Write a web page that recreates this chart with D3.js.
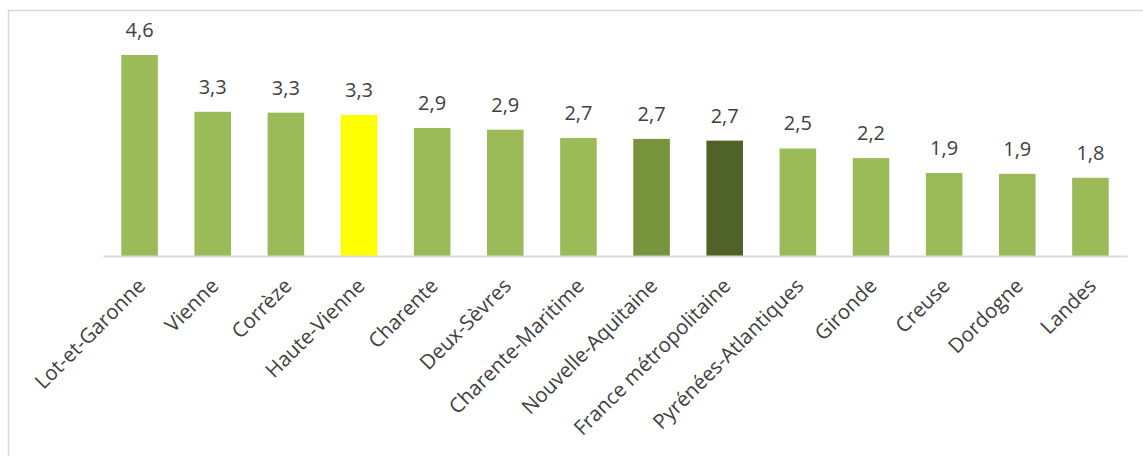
<!DOCTYPE html>
<html>
<head>
<meta charset="utf-8">
<script src="https://cdn.jsdelivr.net/npm/d3@7/dist/d3.min.js"></script>
<style>
  body { margin: 0; background: #fff; }
  text { font-family: "Open Sans", sans-serif; fill: #404040; }
</style>
</head>
<body>
<div id="chart"></div>
<script>
// departements, sorted as in the source
var categories = ["Lot-et-Garonne", "Vienne", "Corrèze", "Haute-Vienne", "Charente",
  "Deux-Sèvres", "Charente-Maritime", "Nouvelle-Aquitaine", "France métropolitaine",
  "Pyrénées-Atlantiques", "Gironde", "Creuse", "Dordogne", "Landes"];
var values = [4.6, 3.30, 3.28, 3.23, 2.93, 2.89, 2.70, 2.68, 2.64, 2.46, 2.24, 1.90, 1.88, 1.79];
var labels = ["4,6", "3,3", "3,3", "3,3", "2,9", "2,9", "2,7", "2,7", "2,7", "2,5", "2,2", "1,9", "1,9", "1,8"];
var highlight = { "Haute-Vienne": "#ffff00", "Nouvelle-Aquitaine": "#77933c", "France métropolitaine": "#4f6228" };

var W = 1143, H = 456;
var left = 103, right = 1127, baseY = 256, topY = 37.5;

var svg = d3.select("#chart").append("svg")
  .attr("width", W)
  .attr("height", H);

// outer frame (cut at the right and bottom)
svg.append("path")
  .attr("d", "M8.5," + H + "V10.5H" + W)
  .attr("fill", "none")
  .attr("stroke", "#d9d9d9")
  .attr("stroke-width", 1.5);

var x = d3.scaleBand().domain(categories).range([left, right]).paddingInner(0.5).paddingOuter(0.25);
var y = d3.scaleLinear().domain([0, 5]).range([baseY, topY]);

var data = categories.map(function(c, i) { return { cat: c, v: values[i], lab: labels[i] }; });

svg.selectAll("rect.bar")
  .data(data)
  .enter()
  .append("rect")
  .attr("class", "bar")
  .attr("x", function(d) { return x(d.cat); })
  .attr("width", x.bandwidth())
  .attr("y", function(d) { return y(d.v); })
  .attr("height", function(d) { return baseY - y(d.v); })
  .attr("fill", function(d) { return highlight[d.cat] || "#9bbb59"; });

// baseline
var xAxis = d3.axisBottom(x).tickSize(0).tickFormat("");
svg.append("g")
  .attr("transform", "translate(0," + baseY + ")")
  .call(xAxis)
  .call(function(g) { g.select(".domain").attr("stroke", "#d9d9d9").attr("stroke-width", 2); });

// value labels
svg.selectAll("text.val")
  .data(data)
  .enter()
  .append("text")
  .attr("class", "val")
  .attr("x", function(d) { return x(d.cat) + x.bandwidth() / 2; })
  .attr("y", function(d) { return y(d.v) - 18; })
  .attr("text-anchor", "middle")
  .style("font-size", "20px")
  .text(function(d) { return d.lab; });

// category labels, rotated
svg.selectAll("text.cat")
  .data(categories)
  .enter()
  .append("text")
  .attr("class", "cat")
  .attr("transform", function(d) {
    return "translate(" + (x(d) + x.bandwidth() / 2 + 2) + "," + 282 + ") rotate(-45)";
  })
  .attr("text-anchor", "end")
  .attr("dy", "0.35em")
  .style("font-size", "20.5px")
  .text(function(d) { return d; });
</script>
</body>
</html>
